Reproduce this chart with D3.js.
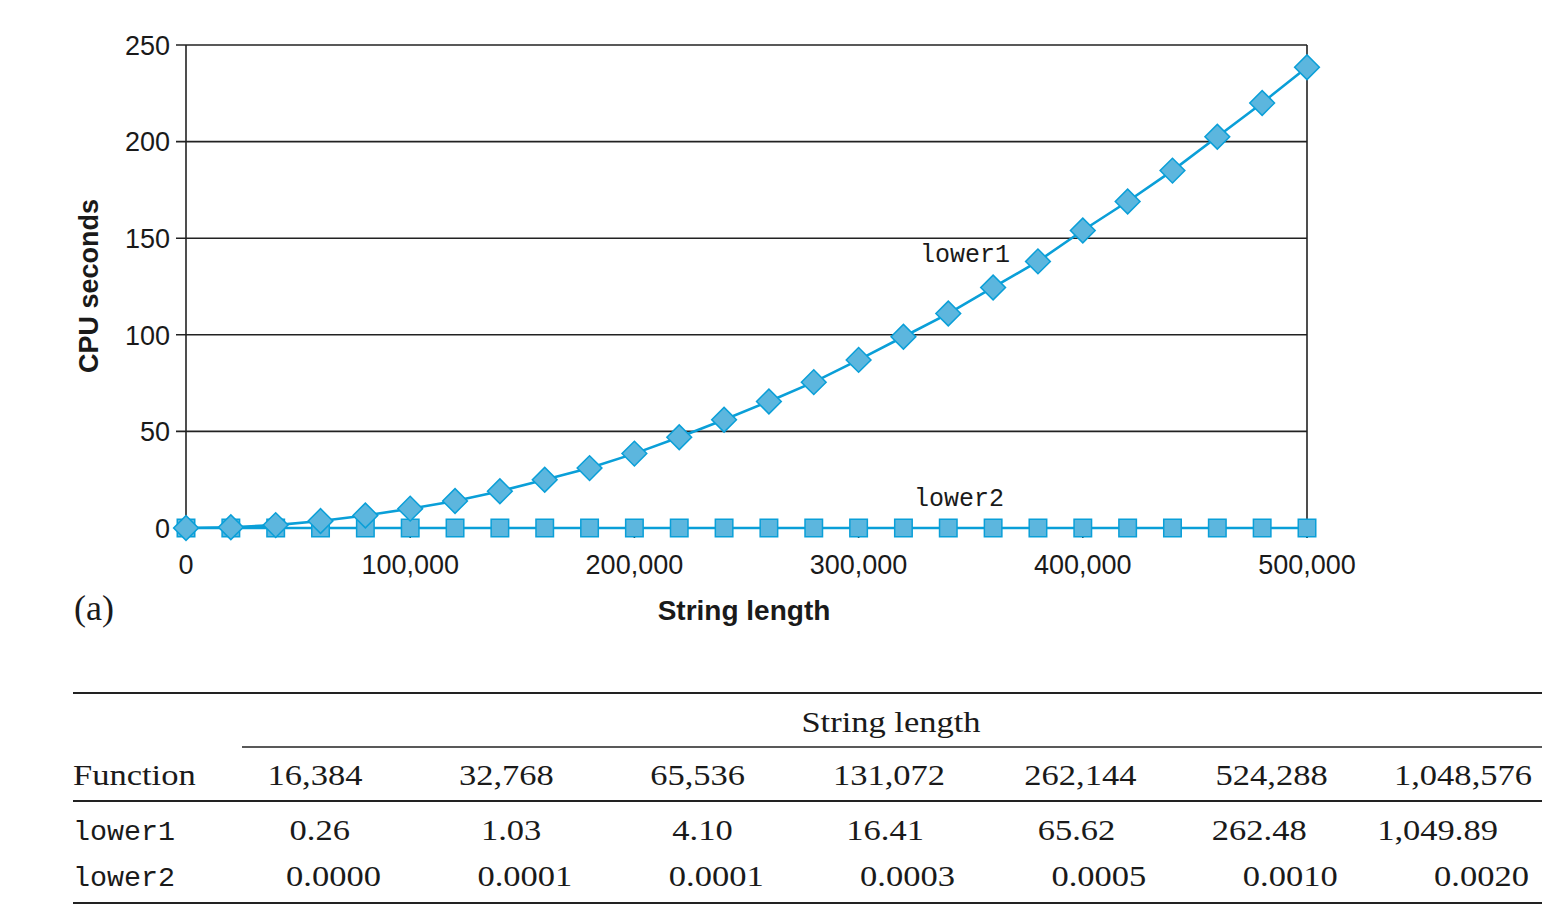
<!DOCTYPE html>
<html>
<head>
<meta charset="utf-8">
<script src="https://cdn.jsdelivr.net/npm/d3@7"></script>
<style>
  body { margin: 0; background: #fff; }
  svg { display: block; }
</style>
</head>
<body>
<svg id="chart" width="1568" height="922"></svg>
<script>
// String lengths sampled in the plot
const lengths = d3.range(0, 500001, 20000);
// CPU seconds
const lower1Secs = [0, 0.4, 1.5, 3.6, 6.5, 10, 14, 19, 25, 31, 38.5, 47, 56, 65.5,
  75.5, 87, 99, 111, 124.5, 138, 154, 169, 185, 202.5, 220, 238.5];
const lower2Secs = lengths.map(() => 0);

const yTicks = [0, 50, 100, 150, 200, 250];
const xTicks = [0, 100000, 200000, 300000, 400000, 500000];

// table
const tableLengths = ['16,384', '32,768', '65,536', '131,072', '262,144', '524,288', '1,048,576'];
const tableLower1 = ['0.26', '1.03', '4.10', '16.41', '65.62', '262.48', '1,049.89'];
const tableLower2 = ['0.0000', '0.0001', '0.0001', '0.0003', '0.0005', '0.0010', '0.0020'];

const svg = d3.select('#chart');
const sans = '"Liberation Sans", Arial, Helvetica, sans-serif';
const serif = '"Liberation Serif", "Times New Roman", serif';
const mono = '"Liberation Mono", "Courier New", monospace';
const blue = '#0a9fd8';
const fillBlue = '#5cb6de';

const x = d3.scaleLinear().domain([0, 500000]).range([186, 1307]);
const y = d3.scaleLinear().domain([0, 250]).range([528, 45]);

// gridlines + y ticks
svg.append('g').selectAll('line').data(yTicks).join('line')
  .attr('x1', 176).attr('x2', x(500000))
  .attr('y1', d => y(d)).attr('y2', d => y(d))
  .attr('stroke', '#222').attr('stroke-width', 1.6);

svg.append('g').selectAll('text').data(yTicks).join('text')
  .attr('x', 170).attr('y', d => y(d)).attr('dy', '0.36em')
  .attr('text-anchor', 'end')
  .style('font-family', sans).style('font-size', '27px').attr('fill', '#1a1a1a')
  .text(d => d);

// x ticks (short, under the axis)
svg.append('g').selectAll('line').data(xTicks).join('line')
  .attr('x1', d => x(d)).attr('x2', d => x(d))
  .attr('y1', y(0)).attr('y2', y(0) + 10)
  .attr('stroke', '#222').attr('stroke-width', 1.6);

svg.append('g').selectAll('text').data(xTicks).join('text')
  .attr('x', d => x(d)).attr('y', 574)
  .attr('text-anchor', 'middle')
  .style('font-family', sans).style('font-size', '27px').attr('fill', '#1a1a1a')
  .text(d => d3.format(',')(d));

// left / right frame lines
[0, 500000].forEach(v => {
  svg.append('line')
    .attr('x1', x(v)).attr('x2', x(v))
    .attr('y1', y(250)).attr('y2', y(0) + 10)
    .attr('stroke', '#222').attr('stroke-width', 1.6);
});

// axis titles
svg.append('text')
  .attr('transform', 'translate(98,286) rotate(-90)')
  .attr('text-anchor', 'middle')
  .style('font-family', sans).style('font-size', '27px').style('font-weight', 'bold')
  .attr('fill', '#1a1a1a')
  .text('CPU seconds');

svg.append('text')
  .attr('x', 744).attr('y', 620)
  .attr('text-anchor', 'middle')
  .style('font-family', sans).style('font-size', '28px').style('font-weight', 'bold')
  .attr('fill', '#1a1a1a')
  .text('String length');

svg.append('text')
  .attr('x', 74).attr('y', 620)
  .style('font-family', serif).style('font-size', '36px')
  .attr('fill', '#1a1a1a')
  .text('(a)');

// series
const line = d3.line().x((d, i) => x(lengths[i])).y(d => y(d));

const series = [
  { name: 'lower2', values: lower2Secs, rot: 0 },
  { name: 'lower1', values: lower1Secs, rot: 45 }
];

series.forEach(s => {
  const g = svg.append('g');
  g.append('path')
    .datum(s.values)
    .attr('d', line)
    .attr('fill', 'none')
    .attr('stroke', blue)
    .attr('stroke-width', 2.6);
  g.selectAll('path.mk').data(s.values).join('path')
    .attr('class', 'mk')
    .attr('d', d3.symbol().type(d3.symbolSquare).size(17.5 * 17.5))
    .attr('transform', (d, i) => `translate(${x(lengths[i])},${y(d)}) rotate(${s.rot})`)
    .attr('fill', fillBlue)
    .attr('stroke', blue)
    .attr('stroke-width', 1.5);
});

// series labels
svg.append('text')
  .attr('x', 920).attr('y', 262)
  .style('font-family', mono).style('font-size', '25px').attr('fill', '#1a1a1a')
  .text('lower1');
svg.append('text')
  .attr('x', 914).attr('y', 506)
  .style('font-family', mono).style('font-size', '25px').attr('fill', '#1a1a1a')
  .text('lower2');

// ---- table ----
const colX = d3.scalePoint().domain(tableLengths).range([315, 1463]);
const stretch = 1.17;

function cell(txt, cx, cy, anchor, family, size, sx) {
  svg.append('text')
    .attr('transform', `translate(${cx},${cy}) scale(${sx},1)`)
    .attr('text-anchor', anchor)
    .style('font-family', family).style('font-size', size + 'px')
    .attr('fill', '#1a1a1a')
    .text(txt);
}

const rule = (x1, yy, w) => svg.append('line')
  .attr('x1', x1).attr('x2', 1542).attr('y1', yy).attr('y2', yy)
  .attr('stroke', '#222').attr('stroke-width', w);

rule(73, 693, 2.2);
rule(242, 747, 1.3);
rule(73, 801, 2);
rule(73, 903, 2.2);

cell('String length', 891, 732, 'middle', serif, 29.5, stretch);
cell('Function', 73, 785, 'start', serif, 29.5, stretch);
tableLengths.forEach(t => cell(t, colX(t), 785, 'middle', serif, 29.5, stretch));

cell('lower1', 73, 840, 'start', mono, 27, 1.05);
tableLower1.forEach((t, i) => cell(t, colX(tableLengths[i]) + 35, 840, 'end', serif, 29.5, stretch));
cell('lower2', 73, 886, 'start', mono, 27, 1.05);
tableLower2.forEach((t, i) => cell(t, colX(tableLengths[i]) + 66, 886, 'end', serif, 29.5, stretch));
</script>
</body>
</html>
